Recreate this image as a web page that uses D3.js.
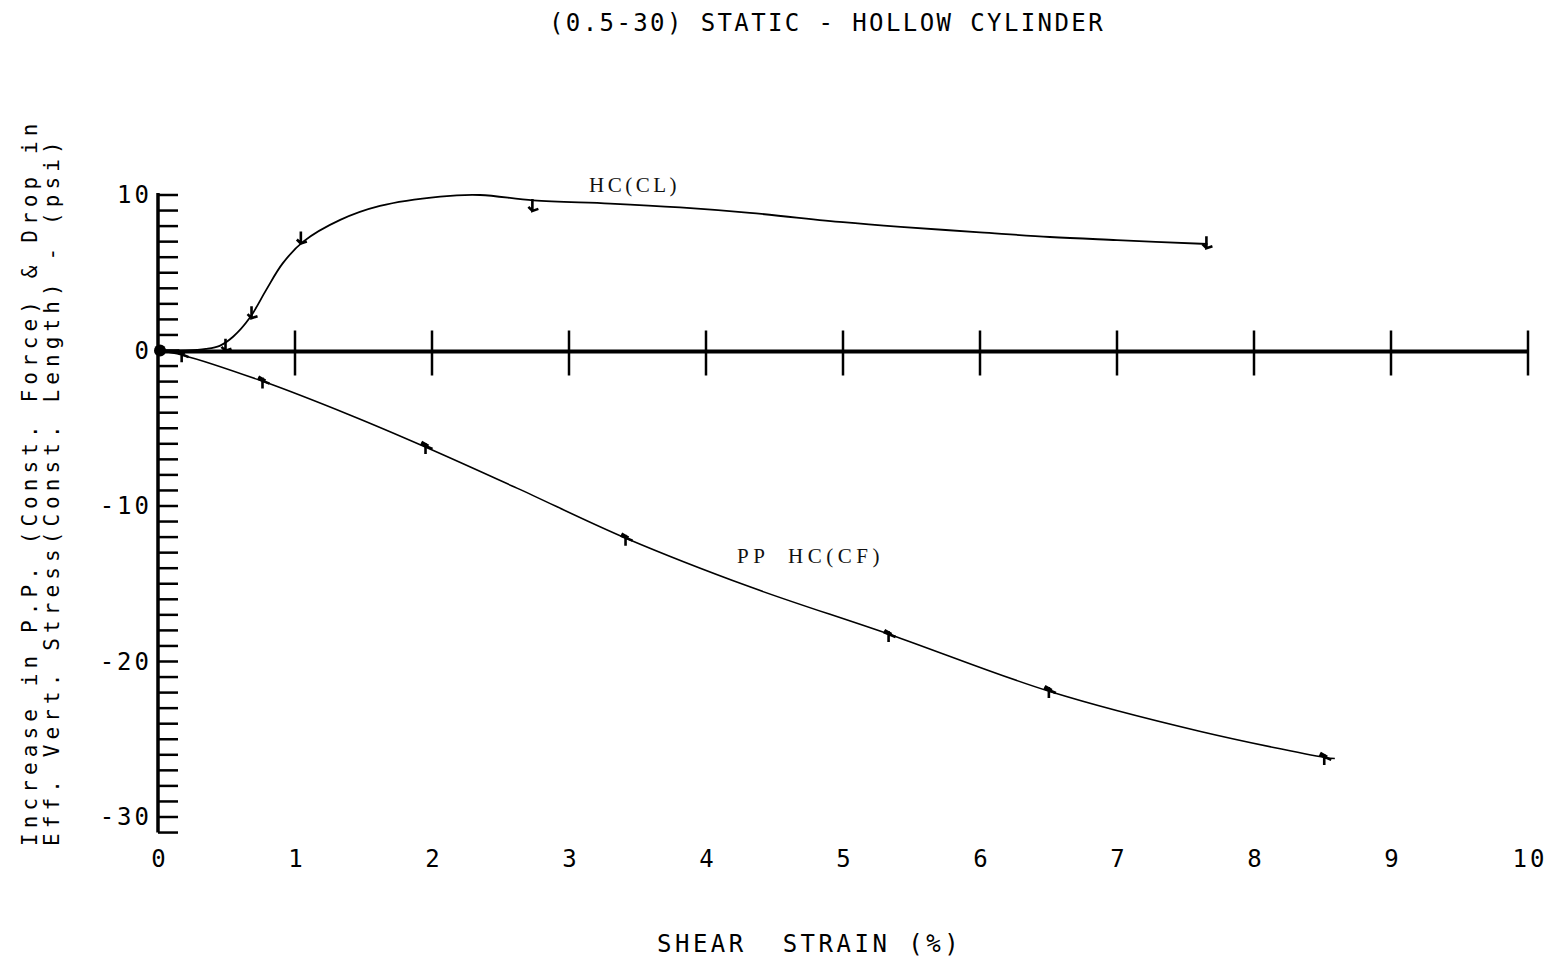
<!DOCTYPE html>
<html lang="en">
<head>
<meta charset="UTF-8">
<title>(0.5-30) Static - Hollow Cylinder</title>
<script src="https://d3js.org/d3.v7.min.js"></script>
<style>
    body { margin: 0; background: #fff; }
    svg { display: block; }
    .mono { font-family: "DejaVu Sans Mono", monospace; fill: #000; font-size: 24px; }
    .serif { font-family: "Liberation Serif", "DejaVu Serif", serif; fill: #111; }
</style>
</head>
<body>
<svg id="chart"></svg>
<script>
// values: shear strain (%) vs pressure change (psi)
const clStrain = [0, 0.2, 0.35, 0.45, 0.55, 0.67, 0.79, 0.91, 1.06, 1.33, 1.62, 2.06, 2.35, 2.74, 3.3, 3.81, 4.32, 5.0, 5.42, 6.0, 6.51, 7.0, 7.66];
const clValue  = [0, 0.0, 0.1, 0.3, 0.9, 2.1, 3.9, 5.6, 7.0, 8.4, 9.3, 9.9, 10.0, 9.65, 9.45, 9.2, 8.85, 8.25, 7.95, 7.6, 7.3, 7.1, 6.85];
const clMarkX  = [0.5, 0.69, 1.05, 2.74, 7.66];
const clMarkY  = [0.3, 2.4, 7.2, 9.3, 6.9];

const cfStrain = [0, 0.18, 0.77, 1.4, 1.96, 2.62, 3.42, 4.32, 5.34, 6.51, 7.61, 8.52, 8.59];
const cfValue  = [0, -0.3, -2.0, -4.15, -6.24, -8.85, -12.09, -15.2, -18.26, -21.93, -24.5, -26.17, -26.24];
const cfMarkX  = [0.18, 0.77, 1.96, 3.42, 5.34, 6.51, 8.52];
const cfMarkY  = [-0.3, -2.0, -6.2, -12.1, -18.3, -21.9, -26.2];

const xTicks = [0, 1, 2, 3, 4, 5, 6, 7, 8, 9, 10];
const yLabels = [10, 0, -10, -20, -30];
const yMinor = d3.range(-31, 11);

const W = 1553, H = 960;
const svg = d3.select("#chart").attr("width", W).attr("height", H);

const x = d3.scaleLinear().domain([0, 10]).range([158, 1528]);
const y = d3.scaleLinear().domain([-30, 10]).range([817, 195]);

// title
svg.append("text").attr("class", "mono")
    .attr("x", 827).attr("y", 31)
    .attr("text-anchor", "middle")
    .style("letter-spacing", "2.4px")
    .text("(0.5-30) STATIC - HOLLOW CYLINDER");

// y axis: vertical line + minor ticks on right side
svg.append("line")
    .attr("x1", x(0)).attr("x2", x(0))
    .attr("y1", y(10) - 2).attr("y2", y(-31))
    .attr("stroke", "#000").attr("stroke-width", 3.5);

svg.selectAll(".ytick").data(yMinor).enter().append("line")
    .attr("x1", x(0)).attr("x2", x(0) + 20)
    .attr("y1", d => y(d)).attr("y2", d => y(d))
    .attr("stroke", "#000").attr("stroke-width", 2.5);

svg.selectAll(".ylab").data(yLabels).enter().append("text")
    .attr("class", "mono")
    .attr("x", 152).attr("y", d => y(d) + 8)
    .attr("text-anchor", "end")
    .style("letter-spacing", "3px")
    .text(d => d);

// x axis drawn along y = 0 with crossing ticks
svg.append("line")
    .attr("x1", x(0)).attr("x2", x(10))
    .attr("y1", y(0) + 1).attr("y2", y(0) + 1)
    .attr("stroke", "#000").attr("stroke-width", 4);

svg.selectAll(".xtick").data(xTicks.slice(1)).enter().append("line")
    .attr("x1", d => x(d)).attr("x2", d => x(d))
    .attr("y1", y(0) - 20).attr("y2", y(0) + 25)
    .attr("stroke", "#000").attr("stroke-width", 2.5);

svg.selectAll(".xlab").data(xTicks).enter().append("text")
    .attr("class", "mono")
    .attr("x", d => x(d) + 2).attr("y", 867)
    .attr("text-anchor", "middle")
    .style("letter-spacing", "3px")
    .text(d => d);

// origin blob
svg.append("circle")
    .attr("cx", x(0) + 2).attr("cy", y(0))
    .attr("r", 6).attr("fill", "#000");

// x axis title
svg.append("text").attr("class", "mono")
    .attr("x", 657).attr("y", 952)
    .attr("xml:space", "preserve")
    .style("white-space", "pre")
    .style("letter-spacing", "3.5px")
    .text("SHEAR  STRAIN (%)");

// y axis title, two rotated lines
const yTitle = svg.append("g").attr("transform", "translate(37,846) rotate(-90)");
yTitle.append("text").attr("class", "mono")
    .attr("x", 0).attr("y", 0)
    .style("font-size", "21px").style("letter-spacing", "5.1px")
    .text("Increase in P.P. (Const. Force) & Drop in");
yTitle.append("text").attr("class", "mono")
    .attr("x", 0).attr("y", 22)
    .style("font-size", "21px").style("letter-spacing", "5.1px")
    .text("Eff. Vert. Stress(Const. Length) - (psi)");

// curves
const line = d3.line()
    .x(d => x(d[0])).y(d => y(d[1]))
    .curve(d3.curveCatmullRom.alpha(0.5));

svg.append("path")
    .datum(d3.zip(clStrain, clValue))
    .attr("d", line)
    .attr("fill", "none").attr("stroke", "#000").attr("stroke-width", 1.8);

svg.append("path")
    .datum(d3.zip(cfStrain, cfValue))
    .attr("d", line)
    .attr("fill", "none").attr("stroke", "#000").attr("stroke-width", 1.6);

// plotter markers
svg.selectAll(".clmark").data(d3.zip(clMarkX, clMarkY)).enter().append("path")
    .attr("transform", d => `translate(${x(d[0])},${y(d[1])})`)
    .attr("d", "M-1,-7 L-1,5 L5,3 M-1,5 L-5,1")
    .attr("fill", "none").attr("stroke", "#000").attr("stroke-width", 2.6);

svg.selectAll(".cfmark").data(d3.zip(cfMarkX, cfMarkY)).enter().append("path")
    .attr("transform", d => `translate(${x(d[0])},${y(d[1])})`)
    .attr("d", "M-6,-3 L6,2 M-1,-4 L-1,7 M-5,-5 L2,-1")
    .attr("fill", "none").attr("stroke", "#000").attr("stroke-width", 2.6);

// curve labels
svg.append("text").attr("class", "serif")
    .attr("x", 589).attr("y", 192)
    .style("font-size", "21px").style("letter-spacing", "3.5px")
    .text("HC(CL)");

svg.append("text").attr("class", "serif")
    .attr("x", 737).attr("y", 563)
    .attr("xml:space", "preserve")
    .style("white-space", "pre")
    .style("font-size", "21px").style("letter-spacing", "4.5px")
    .text("PP  HC(CF)");
</script>
</body>
</html>
